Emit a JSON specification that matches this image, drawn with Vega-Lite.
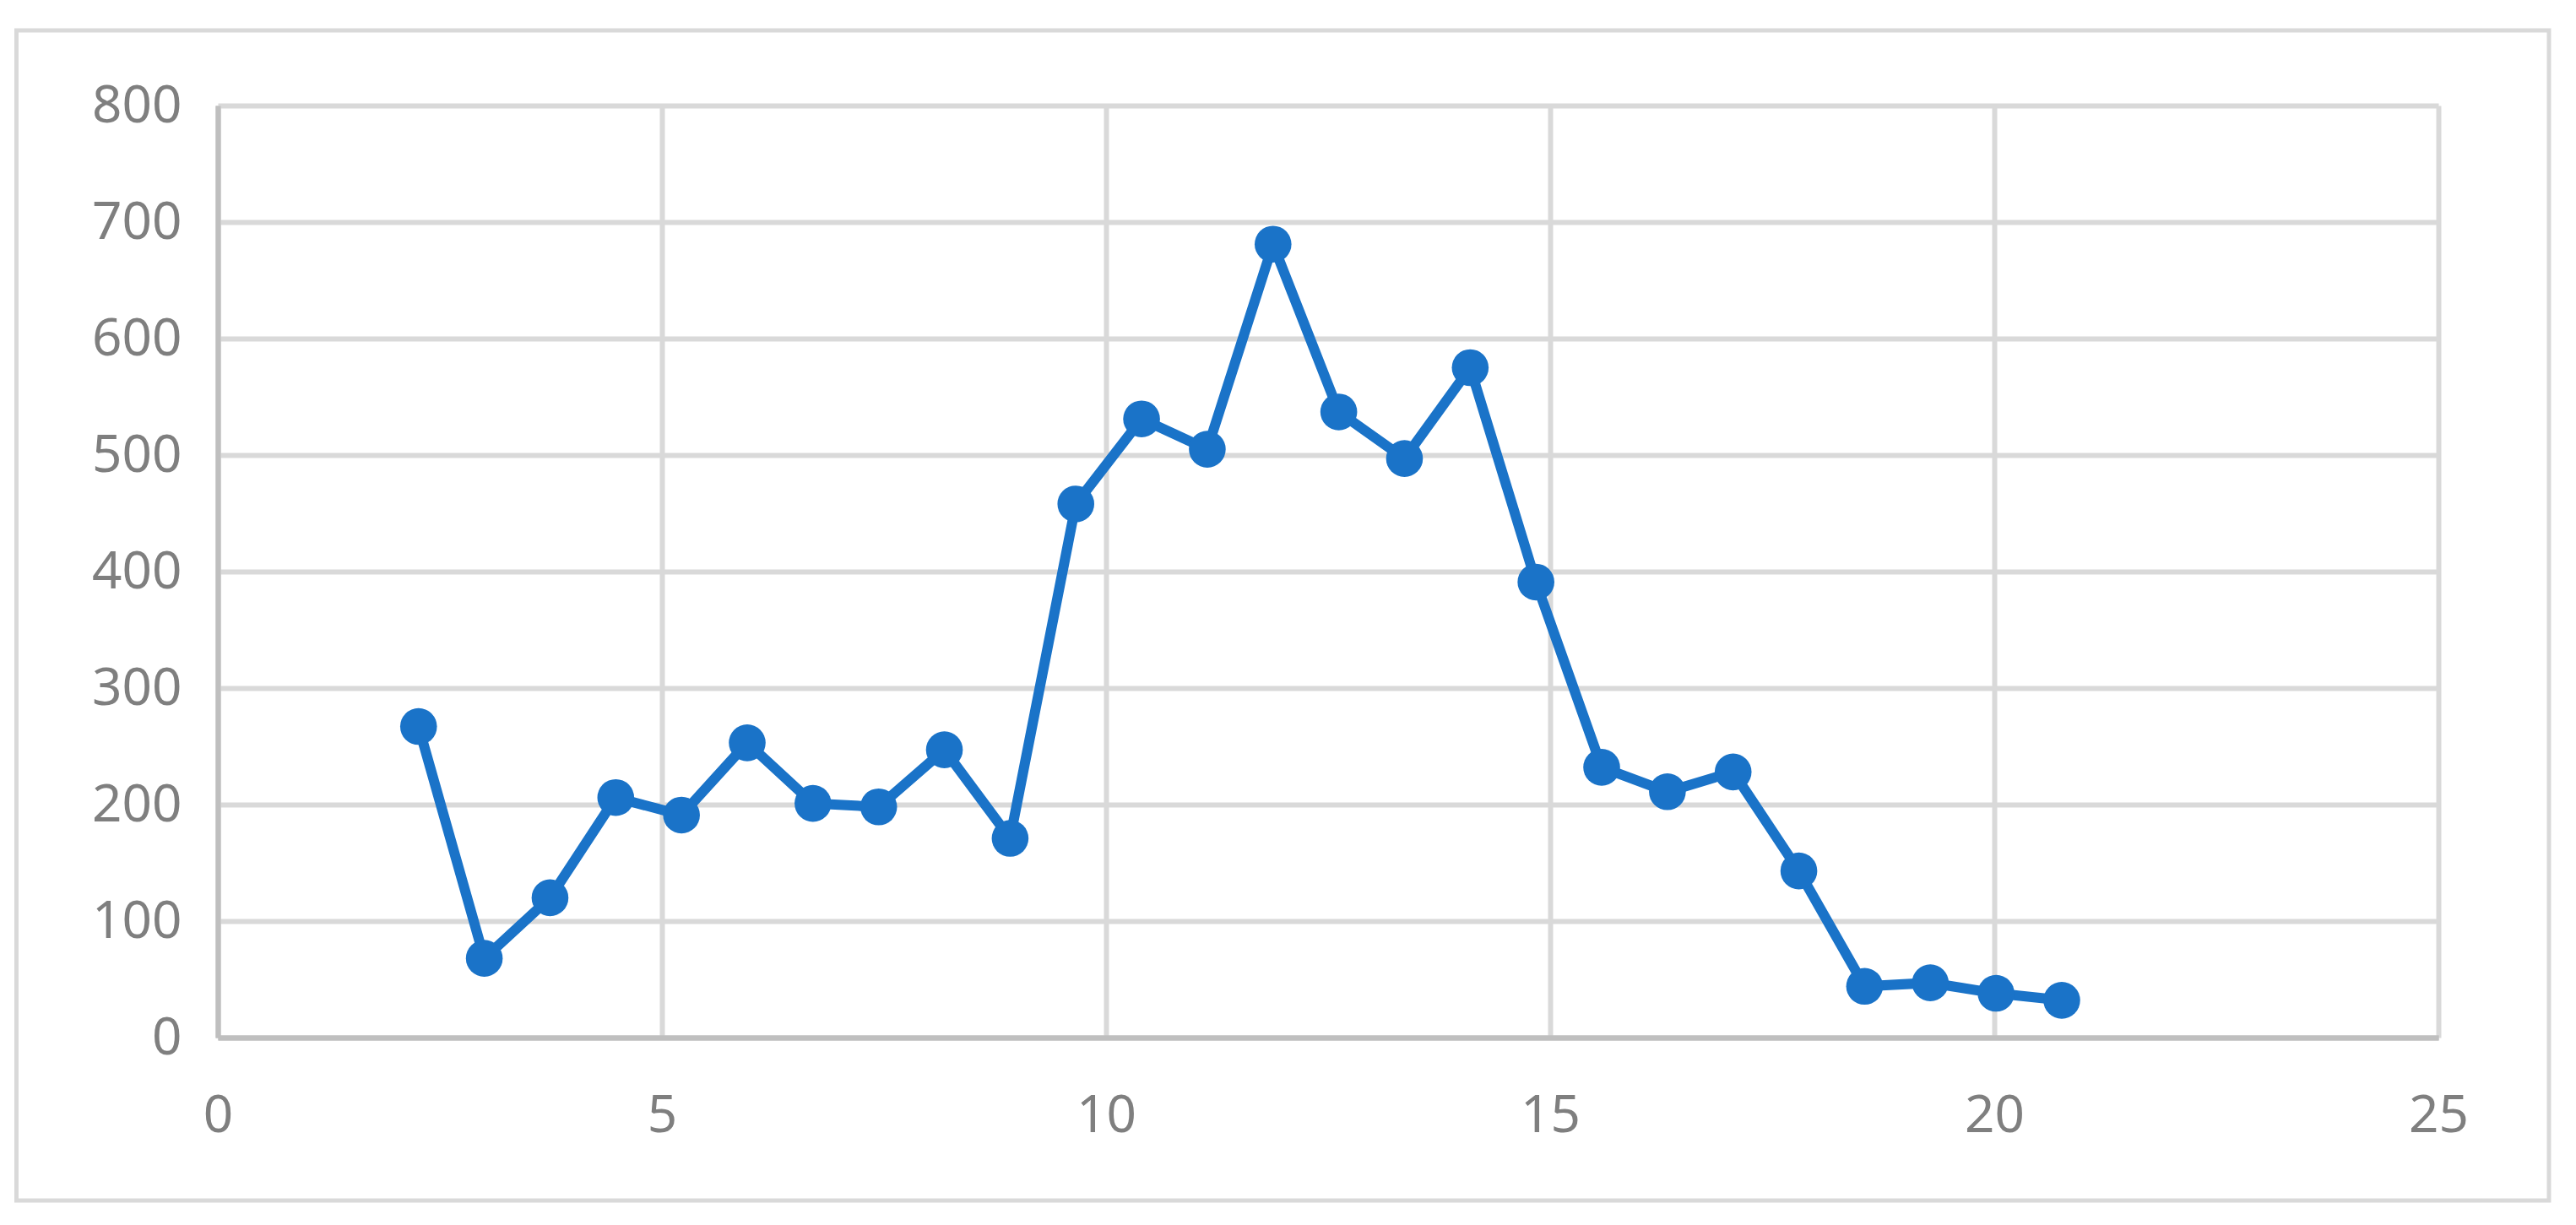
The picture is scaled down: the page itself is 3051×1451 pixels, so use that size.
{
  "$schema": "https://vega.github.io/schema/vega-lite/v6.json",
  "width": 2630,
  "height": 1104,
  "autosize": {"type": "none"},
  "padding": {"left": 258, "top": 125, "right": 163, "bottom": 222},
  "background": "white",
  "config": {
    "view": {"stroke": null},
    "axis": {
      "grid": true,
      "gridColor": {"condition": {"test": "datum.value === 0", "value": "#bfbfbf"}, "value": "#d9d9d9"},
      "gridWidth": 6,
      "domainColor": "#bfbfbf",
      "domainWidth": 6,
      "ticks": false,
      "tickSize": 0,
      "labelFont": "Noto Sans",
      "labelFontSize": 62,
      "labelColor": "#7f7f7f",
      "labelFlush": false,
      "labelOverlap": false,
      "title": null
    }
  },
  "data": {
    "values": [
      {"x": 2.26, "y": 267},
      {"x": 3.00, "y": 68},
      {"x": 3.74, "y": 120},
      {"x": 4.48, "y": 206},
      {"x": 5.22, "y": 191},
      {"x": 5.96, "y": 253},
      {"x": 6.70, "y": 201},
      {"x": 7.44, "y": 198},
      {"x": 8.18, "y": 247},
      {"x": 8.92, "y": 171},
      {"x": 9.66, "y": 458},
      {"x": 10.40, "y": 531},
      {"x": 11.14, "y": 505},
      {"x": 11.88, "y": 681},
      {"x": 12.62, "y": 537},
      {"x": 13.36, "y": 497},
      {"x": 14.10, "y": 575},
      {"x": 14.84, "y": 391},
      {"x": 15.58, "y": 232},
      {"x": 16.32, "y": 211},
      {"x": 17.06, "y": 228},
      {"x": 17.80, "y": 143},
      {"x": 18.54, "y": 44},
      {"x": 19.28, "y": 47},
      {"x": 20.02, "y": 38},
      {"x": 20.76, "y": 32}
    ]
  },
  "layer": [
    {
      "data": {"values": [{}]},
      "mark": {"type": "rect", "fill": null, "stroke": "#d9d9d9", "strokeWidth": 5, "clip": false},
      "encoding": {
        "x": {"datum": -2.267, "type": "quantitative", "scale": {"domain": [0, 25], "nice": false, "zero": false}},
        "x2": {"datum": 26.245},
        "y": {"datum": 864.5, "type": "quantitative", "scale": {"domain": [0, 800], "nice": false}},
        "y2": {"datum": -139.9}
      }
    },
    {
      "mark": {"type": "line", "color": "#1a73c8", "strokeWidth": 12},
      "encoding": {
        "x": {"field": "x", "type": "quantitative", "scale": {"domain": [0, 25], "nice": false, "zero": false},
              "axis": {"values": [0, 5, 10, 15, 20, 25], "format": "d", "labelPadding": 62}},
        "y": {"field": "y", "type": "quantitative", "scale": {"domain": [0, 800], "nice": false},
              "axis": {"values": [0, 100, 200, 300, 400, 500, 600, 700, 800], "format": "d", "labelPadding": 43}}
      }
    },
    {
      "mark": {"type": "point", "filled": true, "size": 1900, "color": "#1a73c8", "opacity": 1},
      "encoding": {
        "x": {"field": "x", "type": "quantitative"},
        "y": {"field": "y", "type": "quantitative"}
      }
    }
  ]
}
